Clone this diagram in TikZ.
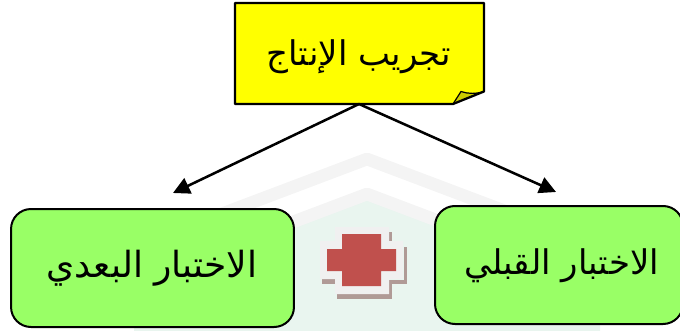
\documentclass[tikz,border=0pt]{standalone}
\usepackage{fontspec}
\usetikzlibrary{arrows.meta,calc}
\TeXXeTstate=1
\newfontfamily\arabicfont[Script=Arabic]{DejaVu Sans}
\tikzset{
  lbl/.style={font=\arabicfont\fontsize{#1}{30}\selectfont,text=black},
  stepbox/.style={draw=black,line width=1.5pt,fill=boxgreen,rounded corners=15pt,inner sep=0pt},
  link/.style={draw=black,line width=1.9pt,-{Triangle[length=12.5pt,width=12.5pt]}},
  band/.style={draw=wmgray,line width=9.5pt,line join=round},
}
\definecolor{boxgreen}{HTML}{99FF66}
\definecolor{noteyellow}{HTML}{FFFF00}
\definecolor{foldyellow}{HTML}{CCCC00}
\definecolor{crossred}{HTML}{C0504D}
\definecolor{halo}{HTML}{F0F0F0}
\definecolor{shadowc}{HTML}{B09A96}
\definecolor{wmgreen}{HTML}{E9F5EF}
\definecolor{wmgray}{HTML}{F4F4F4}
\begin{document}
\begin{tikzpicture}[x=0.75pt,y=-0.75pt]
\useasboundingbox (0,0) rectangle (680,331);
% watermark
\fill[wmgreen] (367,198) -- (600,287) -- (600,331) -- (134,331) -- (134,287) -- cycle;
\draw[band] (150,241) -- (367,159) -- (600,247);
\draw[band] (150,276) -- (367,194) -- (600,282);
% note
\coordinate (nw) at (235,3);
\coordinate (ne) at (484,3);
\coordinate (fr) at (484,91.5);
\coordinate (fb) at (453,104);
\coordinate (sw) at (235,104);
\fill[noteyellow] (nw) -- (ne) -- (fr) -- (fb) -- (sw) -- cycle;
\fill[foldyellow] (fb) -- (461,91.5) .. controls (468,94) and (476,94) .. (fr) -- cycle;
\draw[black,line width=0.9pt] (fb) -- (461,91.5) .. controls (468,94) and (476,94) .. (fr);
\draw[black,line width=1.7pt,line join=round] (nw) -- (ne) -- (fr) -- (fb) -- (sw) -- cycle;
\node[lbl=25.5] (top) at (359,57) {\beginR تجريب الإنتاج\endR};
\coordinate (apex) at (359,104);
% boxes
\node[stepbox,minimum width=212.2pt,minimum height=88.5pt] (left) at (152.5,268) {};
\node[stepbox,minimum width=186pt,minimum height=88.5pt] (right) at (559,265) {};
\node[lbl=27] at (152,268) {\beginR الاختبار البعدي\endR};
\node[lbl=25.5] at (561.5,266) {\beginR الاختبار القبلي\endR};
\coordinate (lt) at (173,193);
\coordinate (rt) at (556,192);
\draw[link] (apex) -- (lt);
\draw[link] (apex) -- (rt);
% cross
\fill[shadowc] (322,279) rectangle (335,284);
\fill[shadowc] (337,294) rectangle (392,299);
\fill[shadowc] (389,232) rectangle (392,241);
\fill[shadowc] (404,247) rectangle (407,284);
\fill[shadowc] (389,280) rectangle (407,284);
\fill[shadowc] (389,280) rectangle (392,299);
\fill[halo] (335,227) -- (389,227) -- (389,241) -- (403,241) -- (403,279) -- (389,279) -- (389,294) -- (335,294) -- (335,279) -- (320,279) -- (320,241) -- (335,241) -- cycle;
\fill[crossred] (342,234) -- (381,234) -- (381,249) -- (396,249) -- (396,271) -- (381,271) -- (381,286) -- (342,286) -- (342,271) -- (327,271) -- (327,249) -- (342,249) -- cycle;
\end{tikzpicture}
\end{document}
